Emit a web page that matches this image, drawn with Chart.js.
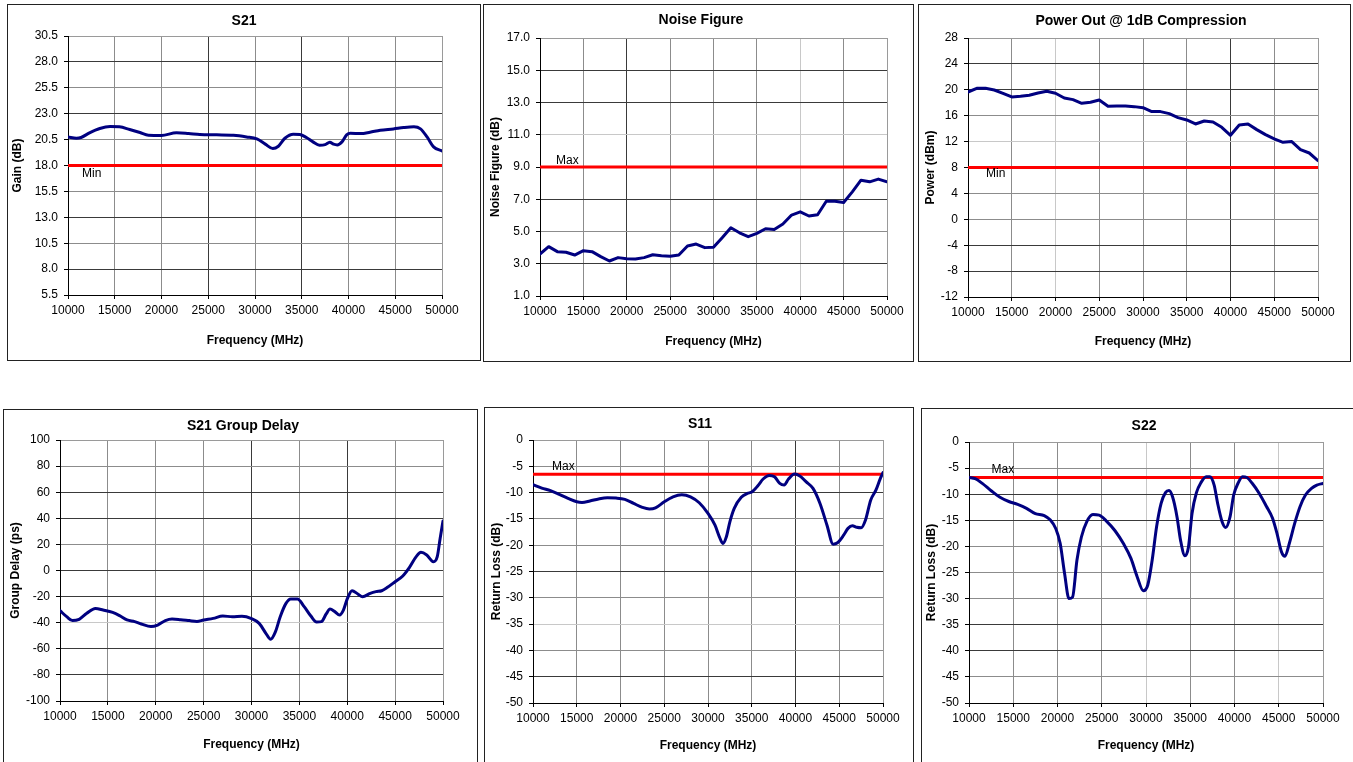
<!DOCTYPE html>
<html>
<head>
<meta charset="utf-8">
<script src="https://cdn.jsdelivr.net/npm/chart.js@4.4.1/dist/chart.umd.min.js"></script>
<style>
html,body{margin:0;padding:0;background:#fff;width:1353px;height:762px;overflow:hidden;}
.panel{position:absolute;border:1px solid #222;box-sizing:border-box;background:#fff;}
canvas.c{position:absolute;left:0;top:0;pointer-events:none;}
</style>
</head>
<body>
<div class="panel" style="left:7px;top:4px;width:474px;height:357px"></div>
<div class="panel" style="left:483px;top:4px;width:431px;height:358px"></div>
<div class="panel" style="left:918px;top:4px;width:433px;height:358px"></div>
<div class="panel" style="left:3px;top:409px;width:475px;height:370px"></div>
<div class="panel" style="left:484px;top:407px;width:430px;height:370px"></div>
<div class="panel" style="left:921px;top:408px;width:450px;height:370px"></div>
<canvas class="c" id="c1" width="1353" height="762"></canvas>
<canvas class="c" id="c2" width="1353" height="762"></canvas>
<canvas class="c" id="c3" width="1353" height="762"></canvas>
<canvas class="c" id="c4" width="1353" height="762"></canvas>
<canvas class="c" id="c5" width="1353" height="762"></canvas>
<canvas class="c" id="c6" width="1353" height="762"></canvas>
<script>
// ---------------- DATA ----------------
const freqTicks = [10000, 15000, 20000, 25000, 30000, 35000, 40000, 45000, 50000];

// S21 gain (dB)
const s21Freq = [10000,10900,11400,12300,13400,14500,15500,16600,17700,18600,20000,21600,22900,24100,25900,27700,29100,30200,31100,31900,32500,33200,34100,34800,35500,36200,36900,37500,38000,38400,38800,39300,39800,40200,41300,42300,43400,44800,45900,47000,47700,48400,49100,50000];
const s21Gain = [20.76,20.63,20.7,21.15,21.57,21.76,21.73,21.47,21.18,20.92,20.9,21.15,21.08,20.99,20.96,20.92,20.76,20.57,20.06,19.64,19.86,20.63,21.02,20.99,20.7,20.28,19.96,20.02,20.25,20.06,19.99,20.28,20.96,21.12,21.08,21.21,21.4,21.53,21.66,21.73,21.53,20.76,19.8,19.4];
const s21Min = 18.0;

// Noise figure (dB)
const nfFreq = [10000,11000,12000,13000,14000,15000,16000,17000,18000,19000,20000,21000,22000,23000,24000,25000,26000,27000,28000,29000,30000,31000,32000,33000,34000,35000,36000,37000,38000,39000,40000,41000,42000,43000,44000,45000,46000,47000,48000,49000,50000];
const nfVals = [3.6,4.06,3.75,3.71,3.54,3.81,3.75,3.44,3.17,3.38,3.31,3.29,3.38,3.56,3.5,3.46,3.54,4.1,4.22,4.0,4.02,4.61,5.23,4.92,4.68,4.88,5.17,5.13,5.46,6.02,6.22,5.96,6.04,6.88,6.88,6.8,7.46,8.18,8.08,8.25,8.08];
const nfMax = 9.0;

// Power out @ 1dB compression (dBm)
const p1Freq = [10000,11000,12000,13000,14000,15000,16000,17000,18000,19000,20000,21000,22000,23000,24000,25000,26000,27000,28000,29000,30000,31000,32000,33000,34000,35000,36000,37000,38000,39000,40000,41000,42000,43000,44000,45000,46000,47000,48000,49000,50000];
const p1Vals = [19.66,20.23,20.23,19.97,19.46,18.89,18.99,19.15,19.51,19.77,19.46,18.74,18.48,17.91,18.07,18.43,17.45,17.5,17.5,17.4,17.24,16.63,16.63,16.32,15.7,15.34,14.72,15.18,15.03,14.21,12.97,14.57,14.72,13.85,13.07,12.41,11.89,12.0,10.76,10.24,9.06];
const p1Min = 8;

// S21 group delay (ps)
const gdFreq = [10000,10700,11300,12000,12800,13700,14500,15500,16300,17000,17800,18500,19500,20200,21000,21700,22600,23500,24300,25000,26000,27000,28000,29000,30000,30800,31500,32000,32500,33000,33600,34100,34800,35500,36200,36800,37300,37800,38200,38700,39200,39600,40000,40500,41100,41600,42400,43000,43600,44200,45000,45800,46500,47200,47700,48300,49000,49400,49700,50000];
const gdVals = [-30.8,-35.4,-38.4,-37.4,-32.8,-29.2,-30.3,-32.1,-34.9,-37.9,-39.2,-41.0,-43.0,-41.8,-38.4,-37.2,-37.7,-38.4,-39.0,-37.9,-36.7,-34.9,-35.4,-35.1,-36.9,-40.5,-48.1,-52.7,-46.9,-35.4,-25.2,-21.8,-21.8,-27.7,-34.9,-39.5,-39.2,-33.3,-29.5,-31.5,-34.1,-30.3,-21.8,-15.5,-18.0,-20.1,-17.5,-16.2,-15.5,-12.9,-8.6,-4.2,2.4,10.6,13.9,11.9,6.8,10.6,24.6,37.9];

// S11 return loss (dB)
const s11Freq = [10000,11000,12000,13000,14000,15000,15600,16500,17500,18500,19500,20500,21500,22500,23300,24000,25000,26000,27000,28000,29000,30000,30800,31300,31700,32100,32500,33000,33800,34500,35000,35700,36300,37000,37600,38200,38700,39200,39900,40500,41200,42000,42800,43600,44300,44800,45500,46000,46500,47000,47500,48000,48600,49200,49700,50000];
const s11Vals = [-8.5,-9.14,-9.64,-10.34,-11.1,-11.74,-11.87,-11.6,-11.2,-10.98,-11.04,-11.3,-12.06,-12.8,-13.1,-12.9,-11.74,-10.8,-10.4,-10.8,-11.93,-13.96,-16.2,-18.4,-19.67,-18.4,-15.55,-13.0,-10.9,-10.15,-9.9,-8.7,-7.42,-6.73,-6.98,-8.25,-8.57,-7.42,-6.47,-6.85,-7.93,-9.2,-12.06,-16.2,-19.8,-19.54,-18.1,-16.8,-16.3,-16.6,-16.7,-15.2,-11.4,-9.5,-7.3,-6.2];
const s11Max = -6.5;

// S22 return loss (dB)
const s22Freq = [10000,10700,11500,12500,13500,14500,15500,16500,17500,18500,19200,19800,20300,20800,21300,21700,22200,22700,23300,24000,24700,25500,26500,27500,28300,29000,29700,30200,30700,31200,31700,32200,32600,33000,33500,33900,34400,34800,35200,35700,36200,36800,37200,37700,38100,38600,39000,39500,39900,40400,40900,41400,42000,42800,43600,44300,44800,45300,45700,46200,46800,47400,48000,48700,49300,50000];
const s22Vals = [-6.78,-7.03,-7.93,-9.33,-10.6,-11.4,-11.96,-12.7,-13.7,-14.1,-14.96,-16.56,-19.4,-25.2,-30.0,-29.7,-22.6,-18.2,-15.3,-13.9,-14.0,-15.1,-17.0,-19.6,-22.3,-25.8,-28.5,-27.4,-22.6,-16.2,-11.8,-9.7,-9.3,-10.5,-14.3,-18.8,-21.8,-20.1,-13.7,-9.7,-7.8,-6.65,-6.65,-8.25,-11.8,-15.3,-16.4,-14.3,-10.2,-7.9,-6.65,-6.8,-7.9,-9.85,-12.3,-14.6,-17.5,-21.0,-21.9,-19.4,-15.6,-12.4,-10.2,-8.9,-8.25,-7.93];
const s22Max = -6.8;

// ---------------- STYLE / LAYOUT ----------------
const FONT = '"Liberation Sans", Arial, Helvetica, sans-serif';
Chart.defaults.font.family = FONT;
Chart.defaults.font.size = 12;
Chart.defaults.color = '#000';
Chart.defaults.animation = false;

const D = '#3a3a3a', M = '#8c8c8c', L = '#c8c8c8', E = '#9a9a9a';

const panelText = {
  id: 'panelText',
  afterDatasetsDraw(chart, args, o) {
    const ctx = chart.ctx, a = chart.chartArea, ys = chart.scales.y;
    ctx.save();
    ctx.fillStyle = '#000';
    ctx.textBaseline = 'middle';
    ctx.textAlign = 'center';
    ctx.font = 'bold 14px ' + FONT;
    ctx.fillText(o.title, o.titleX, o.titleY);
    ctx.textAlign = 'left';
    ctx.font = '12px ' + FONT;
    ctx.fillText(o.limitLabel, a.left + o.labelDx, ys.getPixelForValue(o.limitValue) + o.labelDy);
    ctx.restore();
  }
};

function makeChart(id, s) {
  const g = s.geo;
  const series = s.freq.map((f, i) => ({ x: f, y: s.vals[i] }));
  const limitLine = [{ x: freqTicks[0], y: s.limit }, { x: freqTicks[freqTicks.length - 1], y: s.limit }];
  new Chart(document.getElementById(id), {
    type: 'line',
    data: {
      datasets: [
        { data: series, borderColor: '#000080', borderWidth: 3, pointRadius: 0, fill: false,
          tension: s.smooth ? 0.4 : 0, cubicInterpolationMode: s.smooth ? 'monotone' : 'default',
          borderCapStyle: 'round', borderJoinStyle: 'round' },
        { data: limitLine, borderColor: '#ff0000', borderWidth: 3, pointRadius: 0, fill: false }
      ]
    },
    options: {
      responsive: false,
      animation: false,
      events: [],
      layout: { padding: { left: g.padL, top: g.top, right: 1353 - g.right, bottom: 762 - g.scaleBottom } },
      plugins: {
        legend: { display: false },
        tooltip: { enabled: false },
        title: { display: false },
        panelText: { title: s.title, titleX: s.titleX, titleY: s.titleY,
                     limitLabel: s.limitLabel, limitValue: s.limit, labelDx: s.labelDx, labelDy: s.labelDy }
      },
      scales: {
        x: {
          type: 'linear', min: freqTicks[0], max: freqTicks[freqTicks.length - 1],
          afterBuildTicks: sc => { sc.ticks = freqTicks.map(v => ({ value: v })); },
          ticks: { callback: v => String(v), padding: 4, maxRotation: 0, autoSkip: false, color: '#000', font: { size: 12 } },
          grid: { color: c => s.xShades[c.index], tickColor: '#000', tickLength: 4, lineWidth: 1 },
          border: { color: '#000', width: 1 },
          title: { display: true, text: 'Frequency (MHz)', font: { size: 12, weight: 'bold' }, padding: 0, color: '#000' },
          afterFit: sc => { sc.height = g.scaleBottom - g.bottom; }
        },
        y: {
          type: 'linear', min: s.yMin, max: s.yMax,
          ticks: { stepSize: s.yStep, callback: v => s.dec ? Number(v).toFixed(s.dec) : String(v), padding: 6, autoSkip: false, color: '#000', font: { size: 12 } },
          grid: { color: c => s.yShades[c.index], tickColor: '#000', tickLength: 4, lineWidth: 1 },
          border: { color: '#000', width: 1 },
          title: { display: true, text: s.yTitle, font: { size: 12, weight: 'bold' }, padding: 0, color: '#000' },
          afterFit: sc => { sc.width = g.left - g.padL; }
        }
      }
    },
    plugins: [panelText]
  });
}

makeChart('c1', {
  freq: s21Freq, vals: s21Gain, limit: s21Min, limitLabel: 'Min', smooth: true,
  title: 'S21', titleX: 244, titleY: 21, labelDx: 14, labelDy: 8,
  yMin: 5.5, yMax: 30.5, yStep: 2.5, dec: 1, yTitle: 'Gain (dB)',
  xShades: [M, M, M, D, M, D, M, M, E],
  yShades: [M, D, M, D, M, M, M, D, M, D, E],
  geo: { padL: 10, left: 68, top: 36, right: 442, bottom: 295, scaleBottom: 348 }
});
makeChart('c2', {
  freq: nfFreq, vals: nfVals, limit: nfMax, limitLabel: 'Max', smooth: false,
  title: 'Noise Figure', titleX: 701, titleY: 20.5, labelDx: 16, labelDy: -6.5,
  yMin: 1, yMax: 17, yStep: 2, dec: 1, yTitle: 'Noise Figure (dB)',
  xShades: [M, M, D, M, M, M, L, M, E],
  yShades: [M, D, M, D, M, L, D, D, E],
  geo: { padL: 488, left: 540, top: 38, right: 887, bottom: 296, scaleBottom: 349 }
});
makeChart('c3', {
  freq: p1Freq, vals: p1Vals, limit: p1Min, limitLabel: 'Min', smooth: false,
  title: 'Power Out @ 1dB Compression', titleX: 1141, titleY: 21, labelDx: 18, labelDy: 6.5,
  yMin: -12, yMax: 28, yStep: 4, dec: 0, yTitle: 'Power (dBm)',
  xShades: [M, M, L, M, M, M, D, M, E],
  yShades: [M, D, D, M, M, M, L, M, D, D, E],
  geo: { padL: 923, left: 968, top: 38, right: 1318, bottom: 297, scaleBottom: 349 }
});
makeChart('c4', {
  freq: gdFreq, vals: gdVals, limit: NaN, limitLabel: '', smooth: true,
  title: 'S21 Group Delay', titleX: 243, titleY: 426, labelDx: 0, labelDy: 0,
  yMin: -100, yMax: 100, yStep: 20, dec: 0, yTitle: 'Group Delay (ps)',
  xShades: [M, M, M, M, D, M, D, M, E],
  yShades: [M, D, D, L, D, D, M, D, D, M, E],
  geo: { padL: 8, left: 60, top: 440, right: 443, bottom: 701, scaleBottom: 752 }
});
makeChart('c5', {
  freq: s11Freq, vals: s11Vals, limit: s11Max, limitLabel: 'Max', smooth: true,
  title: 'S11', titleX: 700, titleY: 424.5, labelDx: 19, labelDy: -8,
  yMin: -50, yMax: 0, yStep: 5, dec: 0, yTitle: 'Return Loss (dB)',
  xShades: [M, M, M, M, M, M, D, M, E],
  yShades: [M, D, M, L, M, D, M, M, D, M, E],
  geo: { padL: 489, left: 533, top: 440, right: 883, bottom: 703, scaleBottom: 753 }
});
makeChart('c6', {
  freq: s22Freq, vals: s22Vals, limit: s22Max, limitLabel: 'Max', smooth: true,
  title: 'S22', titleX: 1144, titleY: 426, labelDx: 22.5, labelDy: -7.5,
  yMin: -50, yMax: 0, yStep: 5, dec: 0, yTitle: 'Return Loss (dB)',
  xShades: [M, M, M, M, L, M, M, L, E],
  yShades: [M, M, D, D, M, M, M, D, D, M, E],
  geo: { padL: 924, left: 969, top: 442, right: 1323, bottom: 703, scaleBottom: 753 }
});
</script>
</body>
</html>
